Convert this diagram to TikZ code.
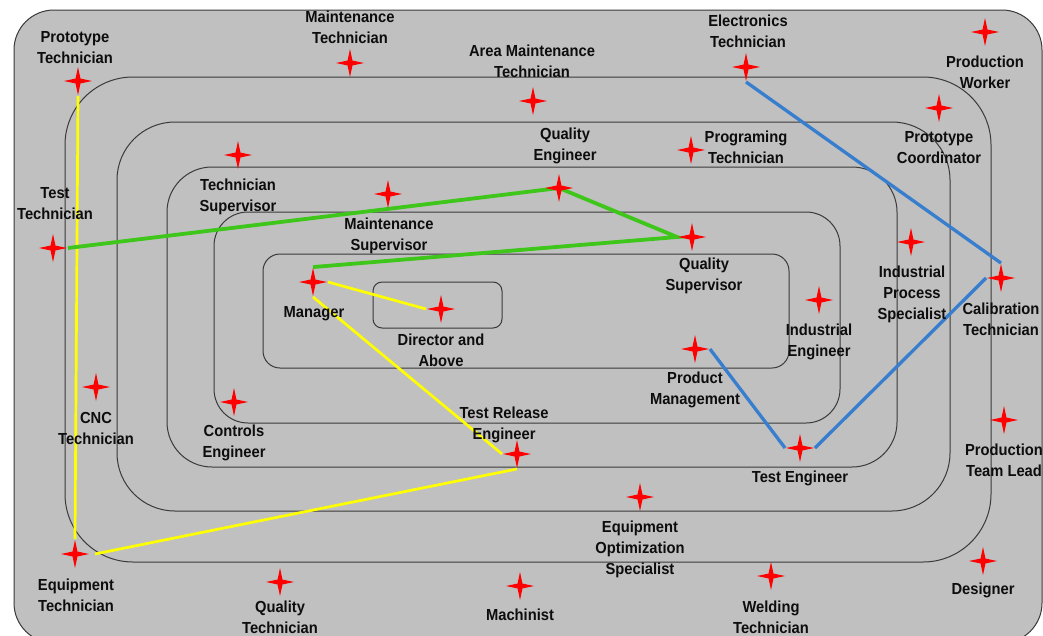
\documentclass[tikz,border=0pt]{standalone}
\usepackage{fontspec}
\setmainfont{Liberation Sans}[FakeStretch=0.92]
\usetikzlibrary{shapes.geometric}
\pgfdeclarelayer{bg}
\pgfdeclarelayer{lines}
\pgfsetlayers{bg,lines,main}
\definecolor{panel}{RGB}{192,192,192}
\definecolor{ring}{RGB}{58,58,58}
\definecolor{lgreen}{RGB}{62,198,26}
\definecolor{lyellow}{RGB}{255,255,0}
\definecolor{lblue}{RGB}{56,126,206}
\begin{document}
\begin{tikzpicture}[x=1pt,y=-1pt,
  ringbox/.style={draw=ring, line width=1pt, fill=panel},
  spark/.style={star, star points=4, star point ratio=4.0, minimum size=28pt, inner sep=0pt, fill=red, draw=none},
  lbl/.style={font=\bfseries\fontsize{16}{21}\selectfont, align=center, inner sep=0pt, text=black!95},
  yline/.style={draw=lyellow, line width=2.7pt},
  gline/.style={draw=lgreen, line width=3.8pt, line join=miter},
  bline/.style={draw=lblue, line width=3.3pt}
]
\useasboundingbox (0,0) rectangle (1043,635);
\begin{pgfonlayer}{bg}
\fill[white] (0,0) rectangle (1043,635);
\draw[ringbox, rounded corners=40pt] (14,10) rectangle (1042,643);
\draw[ringbox, rounded corners=68pt] (65,77) rectangle (991,562);
\draw[ringbox, rounded corners=58pt] (117,122) rectangle (950,511);
\draw[ringbox, rounded corners=45pt] (167,167) rectangle (897,467);
\draw[ringbox, rounded corners=34pt] (214,212) rectangle (840,423);
\draw[ringbox, rounded corners=17pt] (263,254) rectangle (789,368);
\draw[ringbox, rounded corners=9pt] (373,282) rectangle (502,328);
\end{pgfonlayer}

% stars
\node[spark] (proto) at (78,81) {};
\node[spark] (maintt) at (350,63) {};
\node[spark] (areamt) at (533,101) {};
\node[spark] (elect) at (746,67) {};
\node[spark] (prodw) at (985,32) {};
\node[spark] (protoc) at (939,108) {};
\node[spark] (progt) at (691,150) {};
\node[spark] (qe) at (559,188) {};
\node[spark] (techs) at (238,155) {};
\node[spark] (maints) at (388,194) {};
\node[spark] (testt) at (53,248) {};
\node[spark] (qs) at (692,237) {};
\node[spark] (mgr) at (313,282) {};
\node[spark] (dir) at (441,309) {};
\node[spark] (ips) at (911,242) {};
\node[spark] (cal) at (1001,278) {};
\node[spark] (ie) at (819,300) {};
\node[spark] (pm) at (695,349) {};
\node[spark] (cnc) at (96,387) {};
\node[spark] (ce) at (234,402) {};
\node[spark] (tre) at (517,454) {};
\node[spark] (te) at (800,448) {};
\node[spark] (ptl) at (1004,420) {};
\node[spark] (eos) at (640,497) {};
\node[spark] (equip) at (75,554) {};
\node[spark] (des) at (983,561) {};
\node[spark] (qt) at (280,582) {};
\node[spark] (mach) at (520,586) {};
\node[spark] (weld) at (771,576) {};

% labels
\node[lbl] (l-proto) at (75,48) {Prototype\\Technician};
\node[lbl] (l-maintt) at (350,27) {Maintenance\\Technician};
\node[lbl] (l-areamt) at (532,61) {Area Maintenance\\Technician};
\node[lbl] (l-elect) at (748,31) {Electronics\\Technician};
\node[lbl] (l-prodw) at (985,72) {Production\\Worker};
\node[lbl] (l-protoc) at (939,148) {Prototype\\Coordinator};
\node[lbl] (l-progt) at (746,147) {Programing\\Technician};
\node[lbl] (l-qe) at (565,146) {Quality\\Engineer};
\node[lbl] (l-techs) at (238,197) {Technician\\Supervisor};
\node[lbl] (l-maints) at (389,236) {Maintenance\\Supervisor};
\node[lbl] (l-testt) at (55,204) {Test\\Technician};
\node[lbl] (l-qs) at (704,276) {Quality\\Supervisor};
\node[lbl] (l-mgr) at (314,314) {Manager};
\node[lbl] (l-dir) at (441,350) {Director and\\Above};
\node[lbl] (l-ips) at (912,294) {Industrial\\Process\\Specialist};
\node[lbl] (l-cal) at (1001,319) {Calibration\\Technician};
\node[lbl] (l-ie) at (819,342) {Industrial\\Engineer};
\node[lbl] (l-pm) at (695,390) {Product\\Management};
\node[lbl] (l-cnc) at (96,428) {CNC\\Technician};
\node[lbl] (l-ce) at (234,443) {Controls\\Engineer};
\node[lbl] (l-tre) at (504,425) {Test Release\\Engineer};
\node[lbl] (l-te) at (800,478) {Test Engineer};
\node[lbl] (l-ptl) at (1004,460) {Production\\Team Lead};
\node[lbl] (l-eos) at (640,549) {Equipment\\Optimization\\Specialist};
\node[lbl] (l-equip) at (76,595) {Equipment\\Technician};
\node[lbl] (l-des) at (983,590) {Designer};
\node[lbl] (l-qt) at (280,617) {Quality\\Technician};
\node[lbl] (l-mach) at (520,615) {Machinist};
\node[lbl] (l-weld) at (771,617) {Welding\\Technician};

\begin{pgfonlayer}{lines}
\draw[yline] (proto.south) -- (equip.north);
\draw[yline] ([xshift=5pt]equip.east) -- (tre.south);
\draw[yline] (tre.west) -- (mgr.south);
\draw[yline] (mgr.east) -- (dir.west);
\draw[gline] (testt.east) -- (qe.center) -- (qs.west) -- (mgr.north);
\draw[bline] (elect.south) -- (cal.north);
\draw[bline] (cal.west) -- (te.east);
\draw[bline] (te.west) -- (pm.east);
\end{pgfonlayer}
\end{tikzpicture}
\end{document}
